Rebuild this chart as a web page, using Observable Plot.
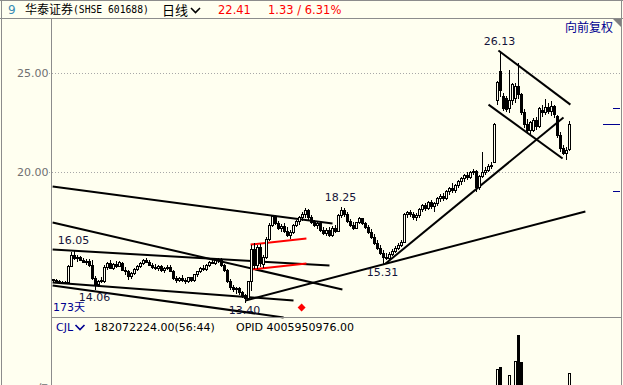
<!DOCTYPE html>
<html><head><meta charset="utf-8">
<script src="https://cdn.jsdelivr.net/npm/d3@7"></script>
<script src="https://cdn.jsdelivr.net/npm/@observablehq/plot@0.6"></script>
<style>
html,body{margin:0;padding:0;background:#fffff0;}
#wrap{position:relative;width:623px;height:385px;overflow:hidden;background:#fffff0;font-family:"DejaVu Sans",sans-serif;}
#wrap svg{position:absolute;left:0;top:0;}
.t{position:absolute;white-space:nowrap;line-height:1;}
.cjk{font-family:"Noto Sans CJK SC",sans-serif;}
</style></head><body>
<div id="wrap"></div>
<script>
// ---- data ----
const open = [14.55,14.50,14.47,14.44,14.40,14.42,15.25,15.80,15.65,15.70,
15.52,15.45,15.50,15.30,14.62,14.30,14.50,14.45,15.20,15.38,
15.15,15.32,15.25,15.40,15.05,14.95,14.70,14.88,15.10,15.25,
15.38,15.55,15.45,15.30,15.20,15.12,15.22,15.02,15.12,15.20,
15.00,14.62,14.50,14.62,14.52,14.45,14.65,14.50,14.80,14.95,
15.15,15.08,15.30,15.45,15.38,15.52,15.60,15.28,15.02,14.45,
14.15,14.05,14.10,13.90,13.75,13.62,14.45,16.10,15.30,16.20,
15.35,15.70,16.60,17.30,17.75,17.40,17.15,17.25,17.00,16.80,
16.95,17.30,17.50,17.70,17.85,18.05,17.70,17.45,17.30,17.40,
17.05,16.90,17.05,16.80,17.15,17.00,17.80,18.05,17.85,17.50,
17.30,17.15,17.45,17.65,17.40,17.20,16.95,16.70,16.40,16.15,
15.90,15.70,15.65,15.85,16.00,16.15,16.30,16.45,17.85,17.95,
17.85,17.70,17.80,18.10,18.30,18.15,18.45,18.25,18.40,18.65,
18.75,18.65,19.00,19.15,19.05,19.30,19.50,19.65,19.80,19.70,
19.95,20.05,19.20,19.75,20.00,20.10,20.30,20.50,23.60,25.10,
23.80,23.70,23.20,23.60,23.70,24.30,23.90,23.00,22.40,22.10,
22.10,22.60,22.30,23.10,23.00,23.25,23.05,23.30,22.80,21.85,
21.20,20.95,21.15];
const high = [14.62,14.58,14.55,14.50,14.48,15.30,15.95,16.05,15.80,15.78,
15.65,15.60,15.62,15.55,14.75,14.55,14.72,15.30,15.45,15.55,
15.40,15.48,15.50,15.45,15.20,15.05,14.95,15.15,15.30,15.45,
15.62,15.68,15.55,15.40,15.35,15.30,15.32,15.20,15.30,15.28,
15.05,14.75,14.70,14.78,14.65,14.72,14.70,14.85,15.00,15.20,
15.30,15.35,15.50,15.65,15.58,15.68,15.65,15.35,15.10,14.60,
14.30,14.20,14.18,14.00,13.85,14.50,16.30,16.40,16.30,16.35,
15.80,16.70,17.40,17.85,17.82,17.55,17.35,17.40,17.20,17.05,
17.35,17.60,17.80,18.00,18.20,18.15,17.85,17.60,17.50,17.45,
17.20,17.15,17.20,17.25,17.30,17.90,18.25,18.20,18.00,17.65,
17.45,17.50,17.75,17.70,17.50,17.30,17.10,16.85,16.55,16.30,
16.05,15.90,15.95,16.10,16.25,16.40,16.55,17.95,18.05,18.10,
18.00,17.95,18.20,18.40,18.45,18.55,18.60,18.50,18.75,18.90,
18.95,19.10,19.25,19.45,19.40,19.60,19.75,19.90,20.00,20.05,
20.15,20.10,19.85,21.00,20.25,20.40,20.50,22.50,24.60,26.13,
24.00,23.85,25.15,24.50,24.50,25.50,24.00,23.20,22.70,22.60,
22.75,22.80,23.30,23.40,23.70,23.50,23.60,23.40,22.90,22.00,
21.35,21.25,22.60];
const low = [14.45,14.42,14.40,14.36,14.33,14.40,15.20,15.55,15.45,15.48,
15.38,15.30,15.20,14.55,14.06,14.20,14.38,14.40,15.05,15.10,
15.05,15.15,15.20,15.00,14.80,14.55,14.60,14.80,15.00,15.15,
15.30,15.38,15.25,15.12,15.05,15.00,14.95,14.90,15.05,14.95,
14.55,14.40,14.42,14.45,14.35,14.40,14.42,14.45,14.70,14.88,
15.00,15.02,15.22,15.35,15.30,15.40,15.20,14.95,14.40,14.05,
13.95,13.85,13.80,13.65,13.40,13.55,14.00,15.10,15.10,15.20,
15.15,15.60,16.50,17.20,17.30,17.05,16.95,16.90,16.70,16.60,
16.85,17.20,17.30,17.55,17.70,17.60,17.35,17.20,17.10,16.95,
16.80,16.75,16.70,16.70,16.90,16.95,17.70,17.75,17.40,17.20,
17.05,17.10,17.35,17.30,17.10,16.85,16.60,16.30,16.05,15.80,
15.31,15.55,15.55,15.75,15.90,16.05,16.20,16.40,17.70,17.75,
17.60,17.55,17.70,18.00,18.05,18.10,18.15,18.00,18.30,18.50,
18.55,18.60,18.85,18.95,18.95,19.20,19.35,19.50,19.60,19.65,
19.85,19.00,19.10,19.70,19.85,20.00,20.15,20.45,23.40,23.80,
23.10,23.05,23.00,23.40,23.50,23.70,22.90,22.20,21.90,21.90,
22.00,22.10,22.20,22.80,22.90,22.95,22.85,22.75,21.70,21.00,
20.85,20.60,21.05];
const close = [14.50,14.47,14.45,14.40,14.42,15.22,15.80,15.65,15.70,15.52,
15.45,15.50,15.28,14.62,14.30,14.48,14.45,15.20,15.38,15.15,
15.32,15.25,15.42,15.05,14.95,14.70,14.88,15.10,15.25,15.38,
15.55,15.45,15.30,15.20,15.12,15.22,15.02,15.12,15.20,15.00,
14.62,14.50,14.62,14.52,14.45,14.65,14.50,14.80,14.95,15.15,
15.08,15.30,15.45,15.38,15.52,15.60,15.28,15.02,14.45,14.15,
14.05,14.10,13.90,13.75,13.62,14.45,16.10,15.30,16.20,15.40,
15.70,16.60,17.30,17.75,17.40,17.15,17.25,17.00,16.80,16.95,
17.30,17.50,17.70,17.85,18.05,17.70,17.45,17.30,17.40,17.05,
16.90,17.05,16.80,17.15,17.00,17.80,18.05,17.85,17.50,17.30,
17.15,17.45,17.65,17.40,17.20,16.95,16.70,16.40,16.15,15.90,
15.70,15.65,15.85,16.00,16.15,16.30,16.45,17.85,17.95,17.85,
17.70,17.80,18.10,18.30,18.15,18.45,18.25,18.40,18.65,18.75,
18.65,19.00,19.15,19.05,19.30,19.50,19.65,19.80,19.70,19.95,
20.05,19.20,19.75,20.00,20.10,20.30,20.35,22.40,24.50,24.10,
23.20,23.15,23.60,24.40,24.30,23.90,23.00,22.40,22.10,22.50,
22.60,22.30,23.20,23.00,23.25,23.05,23.30,22.90,21.85,21.20,
20.95,21.08,22.41];
// volume (millions of shares) for the last candles, starting at index volStart
const volStart = 140;
const volume = [95,120,100,130,90,85,80,145,190,195,140,120,178,140,207,263,205,150,120,110,100,95,115,90,100,85,90,80,120,110,95,100,182.07];
const yTicks = [20, 25];
const volTicks = [150];
// trend lines: [index1, price1, index2, price2]
const blackLines = [
  [-0.3,19.29,93,17.42],[-0.3,17.47,96.3,14.09],[-0.3,16.11,92,15.30],
  [-0.3,14.44,80,13.54],[-0.3,14.29,76.7,12.68],[64,13.54,177.3,18.03],
  [110.7,15.40,170,22.78],[148.3,26.16,172.3,23.43],[145,23.43,169.7,20.71]
];
const redLines = [[65.7,16.36,84.3,16.67],[65.7,15.10,84.3,15.40]];
const highLabels = [{i:7, v:16.05},{i:96, v:18.25},{i:149, v:26.13}];
const lowLabels = [{i:14, v:14.06},{i:64, v:13.40},{i:110, v:15.31}];
const signal = [{i:82.7, v:13.18}];
const sideMarks = [23.23, 19.04];

// ---- build ----
const candles = open.map((o,i)=>({i, o, h:high[i], l:low[i], c:close[i], up: close[i] >= o}));
const vols = volume.map((v,k)=>({i: volStart+k, v, up: candles[volStart+k].up}));
const segs = a => a.map(([i1,p1,i2,p2])=>({i1,p1,i2,p2}));
const BG = "#fffff0";
const xScale = {type:"linear", domain:[0,172], range:[53,569], axis:null};
const crisp = "crispEdges";

const pricePlot = Plot.plot({
  width:623, height:385, margin:0,
  style:{background:"transparent", fontFamily:"DejaVu Sans"},
  x: xScale,
  y: {type:"linear", domain:[20,25], range:[172,73], axis:null},
  color:{type:"identity"},
  marks:[
    Plot.ruleY(yTicks, {y:d=>d, x1:-1.33, x2:189, stroke:"#a8a8a8", strokeDasharray:"1,2", shapeRendering:crisp}),
    Plot.text(yTicks, {y:d=>d, text:d=>d.toFixed(2), frameAnchor:"left", dx:48, textAnchor:"end", fill:"#707070", fontSize:11}),
    Plot.link(segs(blackLines), {x1:"i1", y1:"p1", x2:"i2", y2:"p2", stroke:"#000", strokeWidth:2}),
    Plot.link(segs(redLines), {x1:"i1", y1:"p1", x2:"i2", y2:"p2", stroke:"#ff0000", strokeWidth:2}),
    Plot.ruleX(candles, {x:"i", y1:"l", y2:"h", stroke:"#000", strokeWidth:1, shapeRendering:crisp}),
    Plot.rect(candles, {x1:d=>d.i-1/3, x2:d=>d.i+1/3, y1:"o", y2:"c", fill:d=>d.up?BG:"#000", stroke:"#000", strokeWidth:1, shapeRendering:crisp}),
    Plot.text(highLabels, {x:"i", y:"v", text:d=>d.v.toFixed(2), dy:-10, dx:-1, fill:"#14143a", fontSize:11}),
    Plot.text(lowLabels, {x:"i", y:"v", text:d=>d.v.toFixed(2), dy:7, dx:-1, fill:"#14143a", fontSize:11}),
    Plot.dot(signal, {x:"i", y:"v", symbol:"diamond2", r:3.6, fill:"#ff0000", stroke:null}),
    Plot.ruleY(sideMarks, {y:d=>d, x1:186.7, x2:189, stroke:"#000090", strokeWidth:1, shapeRendering:crisp}),
    Plot.ruleY([close[close.length-1]], {y:d=>d, x1:183.3, x2:189, stroke:"#000090", strokeWidth:1, shapeRendering:crisp})
  ]
});

const volPlot = Plot.plot({
  width:623, height:385, margin:0,
  style:{background:"transparent", fontFamily:"DejaVu Sans"},
  x: xScale,
  y: {type:"linear", domain:[0,300], range:[459,318], axis:null},
  color:{type:"identity"},
  marks:[
    Plot.rect(vols, {x1:d=>d.i-1/3, x2:d=>d.i+1/3, y1:0, y2:"v", fill:d=>d.up?BG:"#000", stroke:"#000", strokeWidth:1, shapeRendering:crisp}),
    Plot.text(volTicks, {y:d=>d, text:d=>(d/100)+"亿", frameAnchor:"left", dx:48, textAnchor:"end", fill:"#707070", fontSize:11, fontFamily:"DejaVu Sans, Noto Sans CJK SC"})
  ]
});

const wrap = document.getElementById("wrap");
wrap.appendChild(volPlot);
wrap.appendChild(pricePlot);

// frame decoration
const ns = "http://www.w3.org/2000/svg";
const deco = document.createElementNS(ns, "svg");
deco.setAttribute("width", 623); deco.setAttribute("height", 385);
deco.innerHTML = `
<g stroke="#8c8c8c" stroke-width="1" fill="none" shape-rendering="crispEdges">
<line x1="0" y1="0.5" x2="623" y2="0.5"/>
<line x1="0" y1="18.5" x2="623" y2="18.5"/>
<line x1="1.5" y1="0" x2="1.5" y2="385"/>
<line x1="51.5" y1="18.5" x2="51.5" y2="385"/>
<line x1="621.5" y1="0" x2="621.5" y2="385"/>
<line x1="51.5" y1="317.5" x2="621.5" y2="317.5"/>
</g>
<polygon points="613,19 621,19 621,27" fill="#808080"/>
<polyline points="191,8 195.5,12.5 200,8" fill="none" stroke="#000" stroke-width="1.6"/>
<polyline points="75.5,325 80,329.5 84.5,325" fill="none" stroke="#000090" stroke-width="1.6"/>`;
wrap.appendChild(deco);

function addText(txt, left, top, size, color, cls){
  const s = document.createElement("span");
  s.className = "t" + (cls ? " " + cls : "");
  s.textContent = txt;
  s.style.left = left + "px"; s.style.top = top + "px";
  s.style.fontSize = size + "px"; s.style.color = color;
  wrap.appendChild(s);
  return s;
}
addText("9", 8, 4, 12, "#3a8cb4");
addText("华泰证券", 25, 3, 12, "#000", "cjk");
const sym = addText("(SHSE 601688)", 73, 5, 9.7, "#000"); sym.style.fontFamily = "DejaVu Sans Mono";
addText("日线", 162, 2.5, 13, "#000", "cjk");
addText("22.41", 218, 4.5, 11.5, "#ff0000");
addText("1.33 / 6.31%", 268, 4.5, 11.5, "#ff0000");
addText("向前复权", 565, 21, 12, "#000090", "cjk");
const d173 = addText("173天", 53, 302, 11, "#000090"); d173.style.fontFamily = "DejaVu Sans, Noto Sans CJK SC";
addText("CJL", 56, 321.5, 11, "#000090");
addText("182072224.00(56:44)", 94, 321.5, 11, "#000");
addText("OPID 4005950976.00", 236, 321.5, 11, "#000");
</script>
</body></html>
